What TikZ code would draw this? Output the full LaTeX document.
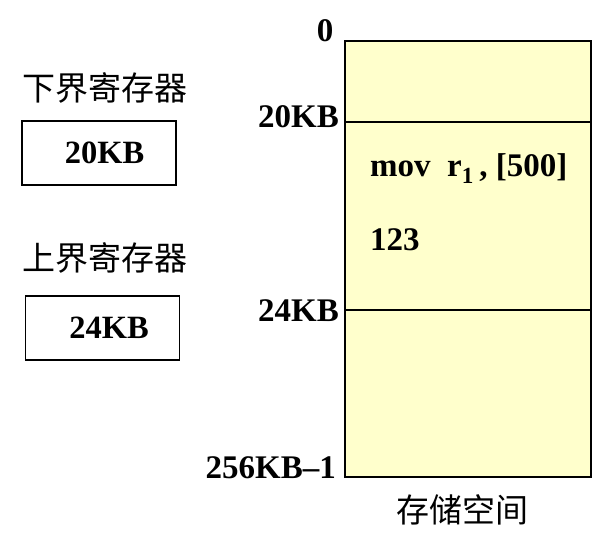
\documentclass[tikz,border=0pt]{standalone}
\usepackage{fontspec}
\setmainfont{Liberation Serif}
\newfontfamily\cjk{Noto Sans CJK SC}
\definecolor{memfill}{HTML}{FFFFCC}
\begin{document}
\begin{tikzpicture}[x=1pt,y=1pt,
  numtext/.style={font=\fontsize{33}{38}\selectfont\bfseries, inner sep=0pt},
  cjktext/.style={font=\cjk\fontsize{33}{38}\selectfont, inner sep=0pt},
  regbox/.style={draw, line width=1.6pt, minimum width=154pt, minimum height=64pt, inner sep=0pt, font=\fontsize{32.5}{38}\selectfont\bfseries},
  membox/.style={draw, line width=1.8pt, fill=memfill, minimum width=246pt, minimum height=436pt, inner sep=0pt}
]
\useasboundingbox (0,0) rectangle (594,-548);
% memory
\node[membox] (mem) at (468,-259) {};
\coordinate (l20a) at (345,-122);
\coordinate (l20b) at (592,-122);
\coordinate (l24a) at (345,-310);
\coordinate (l24b) at (592,-310);
\draw[line width=1.6pt] (l20a) -- (l20b);
\draw[line width=1.6pt] (l24a) -- (l24b);
% address labels
\node[numtext, anchor=base] (a0) at (325,-42) {0};
\node[numtext, anchor=base east] (a20) at (339,-128) {20KB};
\node[numtext, anchor=base east] (a24) at (339,-321) {24KB};
\node[numtext, anchor=base east] (a256) at (336,-478) {256KB–1};
% contents
\node[numtext, anchor=base west] (instr) at (370,-177) {mov\ \ r\textsubscript{1}\,, [500]};
\node[numtext, anchor=base west] (val) at (370,-250) {123};
\node[cjktext] (memlab) at (462,-510) {存储空间};
% registers
\node[cjktext, anchor=west] (lowlab) at (22,-88) {下界寄存器};
\node[regbox] (low) at (99,-153) {\hspace*{11pt}20KB};
\node[cjktext, anchor=west] (uplab) at (22,-258) {上界寄存器};
\node[regbox] (up) at (102.5,-328) {\hspace*{13pt}24KB};
\end{tikzpicture}
\end{document}
